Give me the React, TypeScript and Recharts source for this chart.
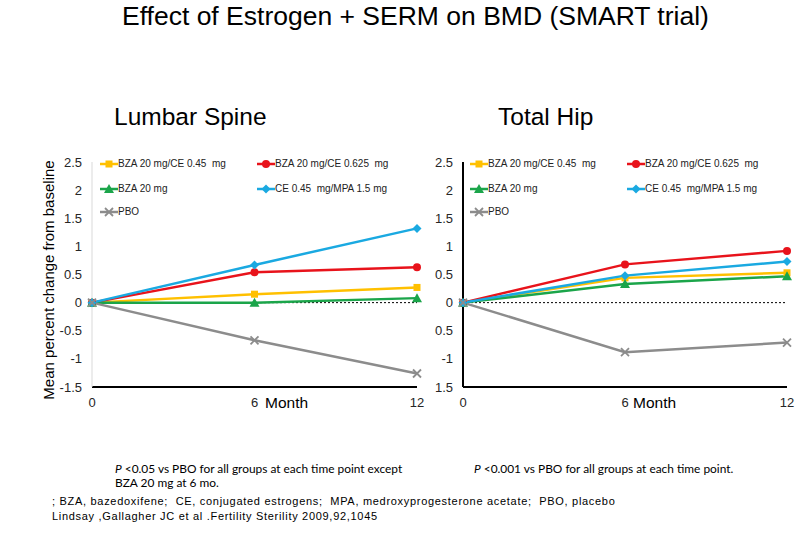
import { LineChart, Line, XAxis, YAxis, ReferenceLine } from 'recharts'

const months = [0, 6, 12]

// Lumbar spine, mean % change from baseline
const spineBzaCe045 = [0, 0.15, 0.27]
const spineBzaCe0625 = [0, 0.54, 0.63]
const spineBza20 = [0, 0.0, 0.08]
const spineCeMpa = [0, 0.67, 1.32]
const spinePbo = [0, -0.67, -1.26]

// Total hip, mean % change from baseline
const hipBzaCe045 = [0, 0.44, 0.53]
const hipBzaCe0625 = [0, 0.68, 0.92]
const hipBza20 = [0, 0.33, 0.47]
const hipCeMpa = [0, 0.48, 0.73]
const hipPbo = [0, -0.88, -0.71]

const yTicks = [-1.5, -1, -0.5, 0, 0.5, 1, 1.5, 2, 2.5]
const xTicks = [0, 6, 12]

const seriesNames = [
  'BZA 20 mg/CE 0.45  mg',
  'BZA 20 mg/CE 0.625  mg',
  'BZA 20 mg',
  'CE 0.45  mg/MPA 1.5 mg',
  'PBO',
]

const SERIES = [
  { key: 'bzaCe045', color: '#ffc000', shape: 'square' },
  { key: 'bzaCe0625', color: '#e8131b', shape: 'circle' },
  { key: 'bza20', color: '#1ba54a', shape: 'triangle' },
  { key: 'ceMpa', color: '#1aa9e1', shape: 'diamond' },
  { key: 'pbo', color: '#8c8c8c', shape: 'cross' },
]

function buildRows(values: number[][]) {
  return months.map((m, i) => {
    const row: Record<string, number> = { month: m }
    SERIES.forEach((s, j) => (row[s.key] = values[j][i]))
    return row
  })
}

const spineRows = buildRows([spineBzaCe045, spineBzaCe0625, spineBza20, spineCeMpa, spinePbo])
const hipRows = buildRows([hipBzaCe045, hipBzaCe0625, hipBza20, hipCeMpa, hipPbo])

function Marker({ cx, cy, shape, color }: { cx: number; cy: number; shape: string; color: string }) {
  if (cx == null || cy == null) return null
  if (shape === 'square') return <rect x={cx - 3.5} y={cy - 3.5} width={7} height={7} fill={color} />
  if (shape === 'circle') return <circle cx={cx} cy={cy} r={4} fill={color} />
  if (shape === 'triangle')
    return <polygon points={`${cx},${cy - 5} ${cx + 5},${cy + 4} ${cx - 5},${cy + 4}`} fill={color} />
  if (shape === 'diamond')
    return <polygon points={`${cx},${cy - 4.5} ${cx + 4.5},${cy} ${cx},${cy + 4.5} ${cx - 4.5},${cy}`} fill={color} />
  return (
    <g stroke={color} strokeWidth={1.8}>
      <line x1={cx - 4} y1={cy - 4} x2={cx + 4} y2={cy + 4} />
      <line x1={cx - 4} y1={cy + 4} x2={cx + 4} y2={cy - 4} />
    </g>
  )
}

function LegendIcon({ shape, color }: { shape: string; color: string }) {
  return (
    <svg width={18} height={10} style={{ display: 'block' }}>
      <line x1={0} y1={5} x2={18} y2={5} stroke={color} strokeWidth={2.5} />
      <Marker cx={9} cy={5} shape={shape} color={color} />
    </svg>
  )
}

function ChartLegend({ left, col2 }: { left: number; col2: number }) {
  const pos = [
    [left, 18],
    [col2, 18],
    [left, 43],
    [col2, 43],
    [left, 66],
  ]
  return (
    <>
      {SERIES.map((s, i) => (
        <div
          key={s.key}
          style={{
            position: 'absolute',
            left: pos[i][0],
            top: pos[i][1],
            display: 'flex',
            alignItems: 'center',
            fontSize: 10,
            color: '#222',
            whiteSpace: 'pre',
          }}
        >
          <LegendIcon shape={s.shape} color={s.color} />
          <span>{seriesNames[i]}</span>
        </div>
      ))}
    </>
  )
}

const tickStyle = { fontSize: 13, fill: '#262626', fontFamily: 'Arial, sans-serif' }

function Panel({
  rows,
  width,
  marginLeft,
  yWidth,
  yAxisColor,
  yFormat,
}: {
  rows: Record<string, number>[]
  width: number
  marginLeft: number
  yWidth: number
  yAxisColor: string
  yFormat: (v: number) => string
}) {
  return (
    <LineChart width={width} height={280} data={rows} margin={{ top: 22, right: 13, bottom: 3, left: marginLeft }}>
      <XAxis
        dataKey="month"
        type="number"
        domain={[0, 12]}
        ticks={xTicks}
        tickLine={false}
        tickMargin={5}
        axisLine={{ stroke: '#000', strokeWidth: 2 }}
        tick={tickStyle}
        height={30}
      />
      <YAxis
        type="number"
        domain={[-1.5, 2.5]}
        ticks={yTicks}
        width={yWidth}
        tickLine={false}
        tickMargin={4}
        interval={0}
        axisLine={{ stroke: yAxisColor, strokeWidth: yAxisColor === '#000' ? 2 : 1 }}
        tick={tickStyle}
        tickFormatter={yFormat}
      />
      <ReferenceLine y={0} stroke="#000" strokeDasharray="2 2" strokeWidth={1} />
      {SERIES.map((s) => (
        <Line
          key={s.key}
          dataKey={s.key}
          stroke={s.color}
          strokeWidth={2.5}
          isAnimationActive={false}
          dot={(p: any) => <Marker key={`${s.key}-${p.index}`} cx={p.cx} cy={p.cy} shape={s.shape} color={s.color} />}
          activeDot={false}
        />
      ))}
    </LineChart>
  )
}

const abs = (left: number, top: number): React.CSSProperties => ({ position: 'absolute', left, top })

const noteFont = 'Lato, "Open Sans", sans-serif'

export default function App() {
  return (
    <div
      style={{
        position: 'absolute',
        left: 0,
        top: 0,
        width: 800,
        height: 538,
        background: '#fff',
        fontFamily: 'Arial, "Liberation Sans", sans-serif',
        color: '#000',
        overflow: 'hidden',
      }}
    >
      <div style={{ ...abs(122, 2), fontSize: 26.5, lineHeight: 1.117, whiteSpace: 'nowrap' }}>
        Effect of Estrogen + SERM on BMD (SMART trial)
      </div>
      <div style={{ ...abs(114, 103), fontSize: 24.5, lineHeight: 1.117 }}>Lumbar Spine</div>
      <div style={{ ...abs(498, 103), fontSize: 24.5, lineHeight: 1.117 }}>Total Hip</div>

      <div style={abs(0, 140)}>
        <Panel rows={spineRows} width={430} marginLeft={52} yWidth={40} yAxisColor="#d9d9d9" yFormat={(v) => String(v)} />
        <ChartLegend left={100} col2={257} />
      </div>
      <div style={abs(420, 140)}>
        <Panel
          rows={hipRows}
          width={380}
          marginLeft={8}
          yWidth={35}
          yAxisColor="#000"
          yFormat={(v) => (v === -0.5 || v === -1.5 ? String(-v) : String(v))}
        />
        <ChartLegend left={50} col2={207} />
      </div>

      <div
        style={{
          position: 'absolute',
          left: 48,
          top: 280,
          transform: 'translate(-50%, -50%) rotate(-90deg)',
          whiteSpace: 'nowrap',
          fontSize: 15,
        }}
      >
        Mean percent change from baseline
      </div>
      <div style={{ ...abs(265, 394), fontSize: 15.5, lineHeight: 1.117 }}>Month</div>
      <div style={{ ...abs(633, 394), fontSize: 15.5, lineHeight: 1.117 }}>Month</div>

      <div style={{ ...abs(115, 462), fontSize: 11.9, lineHeight: '14px', fontFamily: noteFont, whiteSpace: 'nowrap' }}>
        <i>P</i> &lt;0.05 vs PBO for all groups at each time point except
        <br />
        BZA 20 mg at 6 mo.
      </div>
      <div style={{ ...abs(474, 462), fontSize: 11.9, lineHeight: '14px', fontFamily: noteFont, whiteSpace: 'nowrap' }}>
        <i>P</i> &lt;0.001 vs PBO for all groups at each time point.
      </div>
      <div style={{ ...abs(52, 494), fontSize: 11, lineHeight: '15px', letterSpacing: 0.7, whiteSpace: 'nowrap' }}>
        ; BZA, bazedoxifene;&nbsp; CE, conjugated estrogens;&nbsp; MPA, medroxyprogesterone acetate;&nbsp; PBO, placebo
        <br />
        Lindsay ,Gallagher JC et al .Fertility Sterility 2009,92,1045
      </div>
    </div>
  )
}
